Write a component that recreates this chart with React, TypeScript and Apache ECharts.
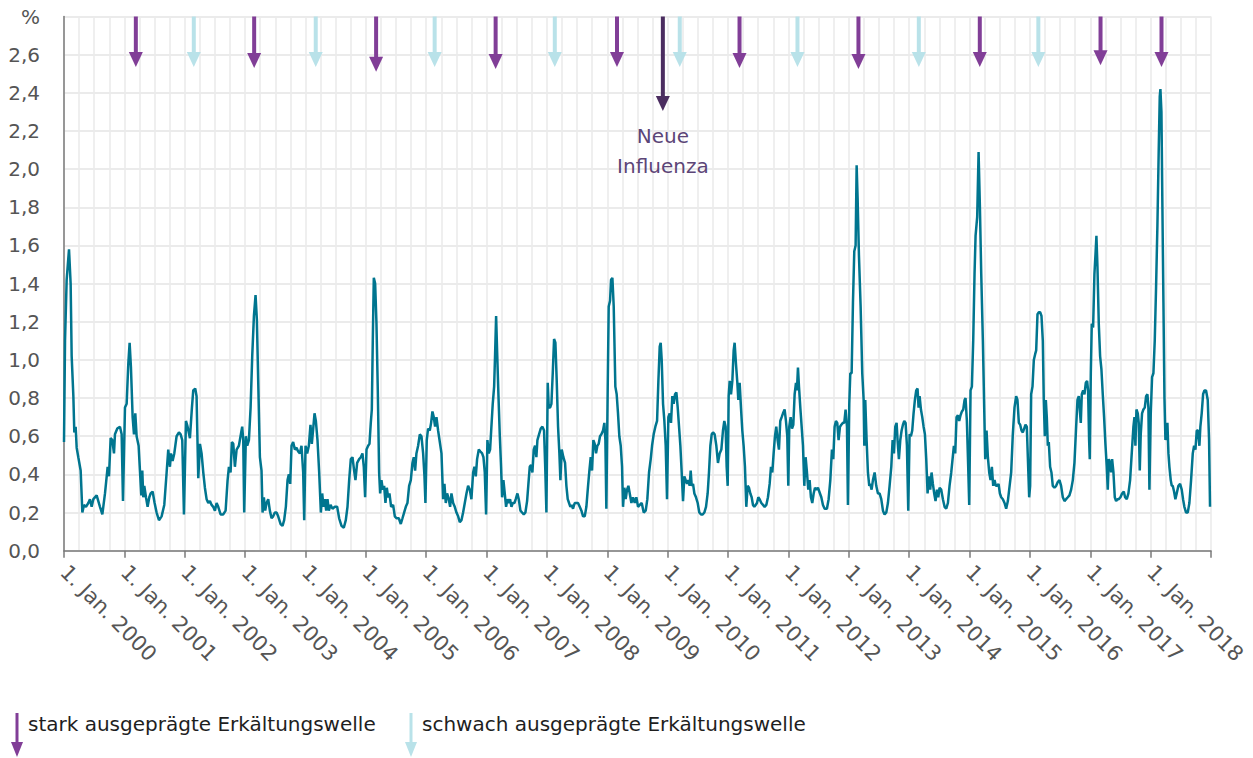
import React, { useEffect, useRef } from "react";
import * as echarts from "echarts";

// Weekly readings, [decimal year, value in %]
const y2000 = [[2000.000,0.57],[2000.017,1.10],[2000.044,1.42],[2000.083,1.58],[2000.110,1.40],[2000.127,1.02],[2000.155,0.81],[2000.171,0.62],[2000.193,0.65],[2000.210,0.54],[2000.237,0.49],[2000.276,0.42],[2000.304,0.20],[2000.331,0.24],[2000.364,0.23],[2000.403,0.25],[2000.430,0.27],[2000.458,0.23],[2000.486,0.27],[2000.541,0.29],[2000.596,0.23],[2000.635,0.19],[2000.679,0.30],[2000.723,0.44],[2000.745,0.39],[2000.773,0.59],[2000.800,0.58],[2000.828,0.51],[2000.844,0.61],[2000.883,0.64],[2000.927,0.65],[2000.955,0.61],[2000.977,0.26]];
const y2001 = [[2001.010,0.75],[2001.038,0.77],[2001.065,0.98],[2001.087,1.09],[2001.109,0.96],[2001.137,0.70],[2001.159,0.61],[2001.181,0.72],[2001.203,0.60],[2001.236,0.55],[2001.258,0.42],[2001.280,0.29],[2001.297,0.42],[2001.313,0.28],[2001.330,0.34],[2001.358,0.28],[2001.385,0.23],[2001.413,0.28],[2001.435,0.30],[2001.468,0.31],[2001.501,0.25],[2001.534,0.20],[2001.573,0.16],[2001.617,0.18],[2001.661,0.24],[2001.700,0.41],[2001.727,0.53],[2001.755,0.44],[2001.772,0.51],[2001.799,0.47],[2001.827,0.51],[2001.865,0.60],[2001.904,0.62],[2001.932,0.61],[2001.959,0.58],[2001.987,0.19]];
const y2002 = [[2002.020,0.68],[2002.047,0.65],[2002.086,0.59],[2002.119,0.75],[2002.141,0.84],[2002.174,0.85],[2002.196,0.81],[2002.224,0.38],[2002.252,0.56],[2002.279,0.51],[2002.307,0.41],[2002.334,0.33],[2002.362,0.27],[2002.390,0.25],[2002.417,0.26],[2002.445,0.24],[2002.472,0.23],[2002.500,0.21],[2002.528,0.25],[2002.555,0.23],[2002.594,0.19],[2002.638,0.19],[2002.677,0.21],[2002.710,0.37],[2002.732,0.44],[2002.759,0.41],[2002.781,0.57],[2002.804,0.56],[2002.831,0.44],[2002.859,0.53],[2002.897,0.55],[2002.930,0.61],[2002.952,0.65],[2002.969,0.58],[2002.985,0.20]];
const y2003 = [[2003.013,0.60],[2003.035,0.55],[2003.063,0.58],[2003.091,0.75],[2003.118,1.02],[2003.146,1.23],[2003.173,1.34],[2003.195,1.21],[2003.217,0.89],[2003.245,0.49],[2003.272,0.42],[2003.289,0.20],[2003.311,0.28],[2003.333,0.21],[2003.355,0.25],[2003.383,0.27],[2003.410,0.21],[2003.438,0.17],[2003.465,0.18],[2003.493,0.20],[2003.521,0.20],[2003.548,0.18],[2003.587,0.14],[2003.620,0.13],[2003.647,0.16],[2003.675,0.23],[2003.703,0.37],[2003.725,0.40],[2003.747,0.35],[2003.769,0.55],[2003.796,0.57],[2003.824,0.53],[2003.852,0.54],[2003.879,0.52],[2003.907,0.51],[2003.934,0.55],[2003.962,0.41],[2003.979,0.16]];
const y2004 = [[2004.001,0.55],[2004.028,0.51],[2004.056,0.55],[2004.083,0.66],[2004.105,0.56],[2004.128,0.64],[2004.150,0.72],[2004.172,0.68],[2004.199,0.58],[2004.227,0.41],[2004.255,0.20],[2004.277,0.30],[2004.299,0.23],[2004.321,0.27],[2004.343,0.21],[2004.365,0.27],[2004.387,0.21],[2004.415,0.24],[2004.448,0.22],[2004.486,0.23],[2004.525,0.23],[2004.558,0.17],[2004.597,0.13],[2004.635,0.12],[2004.668,0.16],[2004.696,0.23],[2004.724,0.37],[2004.751,0.48],[2004.779,0.49],[2004.806,0.42],[2004.828,0.37],[2004.856,0.46],[2004.889,0.48],[2004.917,0.49],[2004.944,0.51],[2004.966,0.44],[2004.988,0.28]];
const y2005 = [[2005.011,0.53],[2005.038,0.55],[2005.060,0.56],[2005.082,0.67],[2005.099,0.74],[2005.115,1.10],[2005.132,1.43],[2005.154,1.40],[2005.176,1.19],[2005.198,0.84],[2005.220,0.41],[2005.237,0.30],[2005.259,0.37],[2005.281,0.32],[2005.303,0.34],[2005.325,0.25],[2005.347,0.33],[2005.369,0.28],[2005.391,0.30],[2005.419,0.23],[2005.452,0.24],[2005.480,0.18],[2005.507,0.17],[2005.546,0.17],[2005.579,0.14],[2005.607,0.17],[2005.634,0.20],[2005.662,0.23],[2005.689,0.25],[2005.717,0.34],[2005.745,0.37],[2005.772,0.46],[2005.794,0.49],[2005.816,0.42],[2005.838,0.51],[2005.866,0.55],[2005.894,0.61],[2005.921,0.60],[2005.949,0.51],[2005.971,0.39],[2005.987,0.25]];
const y2006 = [[2006.009,0.58],[2006.031,0.64],[2006.059,0.63],[2006.081,0.67],[2006.103,0.73],[2006.125,0.70],[2006.147,0.65],[2006.170,0.70],[2006.197,0.63],[2006.253,0.51],[2006.280,0.27],[2006.302,0.35],[2006.324,0.25],[2006.346,0.30],[2006.374,0.27],[2006.396,0.23],[2006.418,0.30],[2006.446,0.25],[2006.473,0.23],[2006.501,0.20],[2006.529,0.18],[2006.556,0.15],[2006.584,0.16],[2006.611,0.20],[2006.639,0.25],[2006.667,0.30],[2006.694,0.34],[2006.722,0.32],[2006.749,0.27],[2006.777,0.41],[2006.799,0.44],[2006.821,0.39],[2006.843,0.48],[2006.871,0.53],[2006.898,0.52],[2006.926,0.51],[2006.948,0.49],[2006.970,0.41],[2006.992,0.19]];
const y2007 = [[2007.014,0.58],[2007.036,0.51],[2007.058,0.53],[2007.080,0.65],[2007.102,0.77],[2007.125,0.86],[2007.141,1.03],[2007.158,1.23],[2007.174,1.05],[2007.196,0.82],[2007.218,0.61],[2007.240,0.44],[2007.257,0.28],[2007.279,0.37],[2007.301,0.30],[2007.323,0.23],[2007.345,0.27],[2007.367,0.25],[2007.389,0.27],[2007.412,0.23],[2007.434,0.25],[2007.461,0.25],[2007.483,0.27],[2007.511,0.30],[2007.533,0.27],[2007.561,0.21],[2007.588,0.20],[2007.616,0.19],[2007.643,0.20],[2007.671,0.26],[2007.693,0.35],[2007.715,0.44],[2007.737,0.45],[2007.759,0.41],[2007.781,0.53],[2007.803,0.55],[2007.825,0.49],[2007.842,0.58],[2007.869,0.61],[2007.897,0.64],[2007.925,0.65],[2007.952,0.63],[2007.974,0.41],[2007.991,0.20]];
const y2008 = [[2008.013,0.88],[2008.030,0.75],[2008.052,0.75],[2008.074,0.77],[2008.096,0.93],[2008.118,1.11],[2008.140,1.09],[2008.162,0.89],[2008.184,0.65],[2008.206,0.51],[2008.223,0.37],[2008.245,0.53],[2008.272,0.49],[2008.300,0.46],[2008.322,0.34],[2008.344,0.27],[2008.366,0.25],[2008.388,0.23],[2008.410,0.24],[2008.432,0.22],[2008.460,0.25],[2008.488,0.25],[2008.515,0.25],[2008.543,0.23],[2008.571,0.21],[2008.598,0.18],[2008.626,0.18],[2008.653,0.23],[2008.681,0.34],[2008.703,0.42],[2008.725,0.49],[2008.747,0.42],[2008.769,0.58],[2008.791,0.56],[2008.813,0.51],[2008.835,0.55],[2008.857,0.56],[2008.879,0.60],[2008.902,0.61],[2008.929,0.63],[2008.951,0.67],[2008.968,0.58],[2008.984,0.22]];
const y2009 = [[2009.006,0.84],[2009.023,1.28],[2009.045,1.31],[2009.062,1.42],[2009.084,1.43],[2009.106,1.28],[2009.133,0.86],[2009.155,0.82],[2009.177,0.72],[2009.199,0.60],[2009.222,0.55],[2009.244,0.44],[2009.260,0.23],[2009.282,0.33],[2009.304,0.27],[2009.327,0.32],[2009.349,0.34],[2009.399,0.25],[2009.426,0.28],[2009.454,0.25],[2009.481,0.28],[2009.509,0.23],[2009.537,0.24],[2009.570,0.25],[2009.603,0.20],[2009.636,0.21],[2009.663,0.27],[2009.691,0.41],[2009.719,0.48],[2009.741,0.55],[2009.768,0.61],[2009.796,0.65],[2009.824,0.68],[2009.846,0.89],[2009.868,1.07],[2009.884,1.09],[2009.901,1.00],[2009.923,0.77],[2009.945,0.68],[2009.967,0.55],[2009.989,0.27]];
const y2010 = [[2010.011,0.70],[2010.033,0.72],[2010.055,0.67],[2010.077,0.81],[2010.099,0.77],[2010.122,0.82],[2010.144,0.83],[2010.166,0.75],[2010.188,0.65],[2010.210,0.55],[2010.232,0.41],[2010.254,0.26],[2010.276,0.39],[2010.298,0.37],[2010.320,0.35],[2010.342,0.37],[2010.364,0.34],[2010.381,0.42],[2010.398,0.34],[2010.420,0.35],[2010.442,0.30],[2010.469,0.28],[2010.497,0.25],[2010.524,0.20],[2010.552,0.19],[2010.580,0.19],[2010.607,0.20],[2010.635,0.23],[2010.662,0.30],[2010.684,0.41],[2010.707,0.55],[2010.729,0.61],[2010.751,0.62],[2010.778,0.61],[2010.806,0.55],[2010.833,0.46],[2010.861,0.51],[2010.889,0.53],[2010.916,0.63],[2010.938,0.68],[2010.960,0.65],[2010.977,0.44],[2010.994,0.34]];
const y2011 = [[2011.010,0.81],[2011.027,0.89],[2011.049,0.82],[2011.071,0.89],[2011.093,1.05],[2011.109,1.09],[2011.131,0.98],[2011.154,0.88],[2011.170,0.79],[2011.192,0.88],[2011.214,0.75],[2011.236,0.63],[2011.258,0.55],[2011.280,0.44],[2011.302,0.23],[2011.325,0.34],[2011.347,0.33],[2011.369,0.30],[2011.391,0.28],[2011.413,0.24],[2011.435,0.23],[2011.457,0.24],[2011.479,0.25],[2011.501,0.28],[2011.523,0.27],[2011.551,0.25],[2011.579,0.24],[2011.606,0.23],[2011.634,0.24],[2011.661,0.28],[2011.689,0.35],[2011.711,0.44],[2011.733,0.41],[2011.755,0.51],[2011.777,0.60],[2011.799,0.65],[2011.821,0.58],[2011.843,0.53],[2011.865,0.68],[2011.888,0.70],[2011.910,0.72],[2011.937,0.74],[2011.959,0.68],[2011.981,0.60],[2011.998,0.34]];
const y2012 = [[2012.014,0.65],[2012.037,0.70],[2012.059,0.64],[2012.081,0.66],[2012.103,0.82],[2012.125,0.88],[2012.141,0.84],[2012.158,0.96],[2012.175,0.86],[2012.197,0.75],[2012.219,0.65],[2012.241,0.55],[2012.263,0.34],[2012.285,0.49],[2012.307,0.41],[2012.329,0.32],[2012.351,0.37],[2012.373,0.28],[2012.395,0.25],[2012.418,0.30],[2012.440,0.33],[2012.462,0.32],[2012.489,0.33],[2012.545,0.28],[2012.572,0.24],[2012.600,0.22],[2012.638,0.22],[2012.666,0.27],[2012.694,0.37],[2012.721,0.53],[2012.743,0.48],[2012.765,0.65],[2012.787,0.68],[2012.809,0.67],[2012.831,0.58],[2012.854,0.65],[2012.876,0.66],[2012.903,0.67],[2012.925,0.67],[2012.947,0.74],[2012.970,0.65],[2012.986,0.24]];
const y2013 = [[2013.008,0.77],[2013.025,0.93],[2013.047,0.93],[2013.069,1.30],[2013.091,1.57],[2013.113,1.60],[2013.130,2.02],[2013.146,1.85],[2013.168,1.55],[2013.196,1.28],[2013.223,0.93],[2013.246,0.79],[2013.257,0.55],[2013.273,0.79],[2013.295,0.58],[2013.317,0.41],[2013.339,0.34],[2013.356,0.35],[2013.378,0.32],[2013.400,0.37],[2013.428,0.41],[2013.455,0.34],[2013.483,0.30],[2013.510,0.30],[2013.538,0.27],[2013.566,0.21],[2013.593,0.19],[2013.621,0.20],[2013.648,0.25],[2013.676,0.34],[2013.704,0.44],[2013.726,0.58],[2013.748,0.51],[2013.770,0.65],[2013.792,0.67],[2013.808,0.58],[2013.830,0.48],[2013.853,0.58],[2013.875,0.63],[2013.897,0.66],[2013.919,0.68],[2013.941,0.67],[2013.963,0.55],[2013.985,0.21]];
const y2014 = [[2014.007,0.61],[2014.029,0.60],[2014.051,0.63],[2014.073,0.72],[2014.095,0.79],[2014.117,0.84],[2014.139,0.85],[2014.156,0.75],[2014.173,0.81],[2014.195,0.74],[2014.217,0.70],[2014.239,0.65],[2014.261,0.61],[2014.283,0.48],[2014.305,0.30],[2014.327,0.39],[2014.349,0.32],[2014.371,0.41],[2014.393,0.35],[2014.415,0.30],[2014.437,0.26],[2014.460,0.32],[2014.482,0.28],[2014.504,0.33],[2014.531,0.32],[2014.559,0.27],[2014.587,0.23],[2014.614,0.22],[2014.642,0.25],[2014.669,0.34],[2014.697,0.41],[2014.719,0.48],[2014.741,0.55],[2014.763,0.51],[2014.785,0.70],[2014.807,0.71],[2014.829,0.68],[2014.851,0.71],[2014.874,0.73],[2014.896,0.74],[2014.918,0.79],[2014.934,0.80],[2014.956,0.68],[2014.978,0.44],[2014.995,0.24]];
const y2015 = [[2015.017,0.84],[2015.039,0.86],[2015.061,1.10],[2015.083,1.45],[2015.100,1.65],[2015.127,1.75],[2015.150,2.09],[2015.172,1.80],[2015.194,1.45],[2015.221,1.10],[2015.243,0.75],[2015.260,0.48],[2015.282,0.63],[2015.304,0.49],[2015.326,0.41],[2015.348,0.37],[2015.370,0.44],[2015.392,0.34],[2015.414,0.37],[2015.436,0.34],[2015.458,0.34],[2015.481,0.35],[2015.503,0.30],[2015.525,0.28],[2015.552,0.27],[2015.580,0.25],[2015.607,0.22],[2015.635,0.26],[2015.690,0.41],[2015.717,0.61],[2015.745,0.75],[2015.772,0.81],[2015.794,0.79],[2015.817,0.67],[2015.839,0.66],[2015.861,0.63],[2015.883,0.62],[2015.905,0.64],[2015.927,0.66],[2015.949,0.65],[2015.966,0.49],[2015.988,0.28]];
const y2016 = [[2016.004,0.34],[2016.021,0.82],[2016.043,0.86],[2016.065,1.00],[2016.087,1.03],[2016.104,1.05],[2016.126,1.24],[2016.148,1.25],[2016.170,1.25],[2016.192,1.23],[2016.214,1.10],[2016.230,0.79],[2016.247,0.60],[2016.264,0.79],[2016.280,0.70],[2016.297,0.55],[2016.313,0.57],[2016.335,0.44],[2016.357,0.41],[2016.379,0.34],[2016.407,0.33],[2016.435,0.34],[2016.462,0.36],[2016.490,0.37],[2016.517,0.34],[2016.545,0.28],[2016.573,0.26],[2016.600,0.27],[2016.628,0.28],[2016.655,0.29],[2016.683,0.32],[2016.711,0.37],[2016.738,0.46],[2016.766,0.65],[2016.788,0.79],[2016.810,0.81],[2016.826,0.74],[2016.843,0.67],[2016.860,0.82],[2016.882,0.84],[2016.904,0.82],[2016.926,0.88],[2016.948,0.89],[2016.964,0.84],[2016.981,0.58],[2016.992,0.48]];
const y2017 = [[2017.009,0.93],[2017.025,1.19],[2017.047,1.17],[2017.069,1.45],[2017.086,1.55],[2017.102,1.65],[2017.119,1.49],[2017.141,1.19],[2017.163,1.02],[2017.185,0.95],[2017.207,0.82],[2017.229,0.70],[2017.251,0.56],[2017.273,0.44],[2017.290,0.32],[2017.307,0.48],[2017.329,0.46],[2017.345,0.41],[2017.362,0.48],[2017.384,0.41],[2017.406,0.28],[2017.428,0.26],[2017.450,0.27],[2017.472,0.27],[2017.500,0.28],[2017.527,0.30],[2017.555,0.31],[2017.577,0.28],[2017.605,0.27],[2017.632,0.30],[2017.660,0.37],[2017.687,0.51],[2017.715,0.65],[2017.732,0.70],[2017.748,0.55],[2017.765,0.74],[2017.787,0.72],[2017.803,0.67],[2017.820,0.42],[2017.836,0.61],[2017.858,0.72],[2017.880,0.74],[2017.903,0.75],[2017.925,0.81],[2017.947,0.82],[2017.963,0.75],[2017.980,0.32]];
const y2018 = [[2018.002,0.72],[2018.024,0.91],[2018.046,0.93],[2018.068,1.10],[2018.090,1.38],[2018.112,1.70],[2018.134,2.10],[2018.151,2.38],[2018.162,2.42],[2018.179,2.30],[2018.195,1.80],[2018.212,1.30],[2018.229,0.80],[2018.245,0.58],[2018.262,0.60],[2018.278,0.67],[2018.295,0.51],[2018.311,0.44],[2018.333,0.37],[2018.350,0.34],[2018.366,0.34],[2018.388,0.31],[2018.410,0.27],[2018.432,0.30],[2018.460,0.34],[2018.488,0.35],[2018.515,0.32],[2018.537,0.27],[2018.559,0.23],[2018.587,0.20],[2018.615,0.20],[2018.642,0.25],[2018.670,0.37],[2018.698,0.51],[2018.720,0.55],[2018.742,0.53],[2018.764,0.63],[2018.786,0.63],[2018.808,0.55],[2018.824,0.65],[2018.846,0.72],[2018.869,0.82],[2018.891,0.84],[2018.918,0.84],[2018.946,0.79],[2018.968,0.58],[2018.984,0.23]];

// Cold-wave markers (decimal year of the arrow) and arrow tip value
const strongWaves = [2001.19, 2003.15, 2005.17, 2007.15, 2009.16, 2011.19, 2013.16, 2015.17, 2017.17, 2018.18];
const strongTips = [2.535, 2.53, 2.51, 2.525, 2.535, 2.53, 2.525, 2.535, 2.545, 2.535];
const weakWaves = [2002.15, 2004.17, 2006.14, 2008.13, 2010.2, 2012.15, 2014.16, 2016.14];
const weakTip = 2.535;
const newFlu = 2009.92;
const newFluTip = 2.305;
const arrowTop = 2.8;

const yearTicks = { min: 2000, max: 2019, step: 1 };
const yTicks = { min: 0, max: 2.8, step: 0.2 };

const legendItems = [
  { label: "stark ausgeprägte Erkältungswelle", kind: 0 },
  { label: "schwach ausgeprägte Erkältungswelle", kind: 1 },
];

const FONT = "'DejaVu Sans', sans-serif";
const TEAL = "#00758f";
const PURPLE = "#813e97";
const LIGHT = "#b9e2e9";
const DARK = "#4b2d60";
const ARROW_COLORS = [PURPLE, LIGHT, DARK];

export default function App() {
  const ref = useRef<HTMLDivElement>(null);
  useEffect(() => {
    if (!ref.current) return;
    const chart = echarts.init(ref.current, null, { renderer: "svg" });
    const series = [
      ...y2000, ...y2001, ...y2002, ...y2003, ...y2004, ...y2005, ...y2006,
      ...y2007, ...y2008, ...y2009, ...y2010, ...y2011, ...y2012, ...y2013,
      ...y2014, ...y2015, ...y2016, ...y2017, ...y2018,
    ];
    const arrows = [
      ...strongWaves.map((t, i) => [t, arrowTop, strongTips[i], 0]),
      ...weakWaves.map((t) => [t, arrowTop, weakTip, 1]),
      [newFlu, arrowTop, newFluTip, 2],
    ];

    const legendGraphics: any[] = [];
    const legendX = [17, 411];
    legendItems.forEach((it, i) => {
      const x = legendX[i];
      const c = ARROW_COLORS[it.kind];
      legendGraphics.push(
        { type: "line", shape: { x1: x, y1: 713, x2: x, y2: 744 }, style: { stroke: c, lineWidth: 3 } },
        { type: "polygon", shape: { points: [[x - 6, 742], [x + 6, 742], [x, 757]] }, style: { fill: c } },
        { type: "text", x: x + 11, y: 724, style: { text: it.label, fill: "#1e1e1e", font: `20px ${FONT}`, verticalAlign: "middle" } }
      );
    });

    chart.setOption({
      animation: false,
      textStyle: { fontFamily: FONT },
      grid: { left: 64, right: 42, top: 16.5, bottom: 207.3, containLabel: false },
      xAxis: {
        type: "value",
        min: yearTicks.min,
        max: yearTicks.max,
        interval: yearTicks.step,
        axisLine: { show: true, onZero: false, lineStyle: { color: "#7a7a7a", width: 1.5 } },
        axisTick: { show: true, length: 7, lineStyle: { color: "#7a7a7a", width: 1.5 } },
        axisLabel: {
          rotate: -45,
          margin: 18,
          color: "#555",
          fontSize: 21,
          fontFamily: FONT,
          formatter: (v: number) => (v >= yearTicks.max ? "" : `1. Jan. ${v}`),
        },
        splitLine: { show: true, lineStyle: { color: "#ebebeb", width: 1.6 } },
        minorTick: { show: false, splitNumber: 4 },
        minorSplitLine: { show: true, lineStyle: { color: "#ebebeb", width: 1.6 } },
      },
      yAxis: {
        type: "value",
        min: yTicks.min,
        max: yTicks.max,
        interval: yTicks.step,
        axisLine: { show: true, lineStyle: { color: "#7a7a7a", width: 1.5 } },
        axisTick: { show: false },
        axisLabel: {
          margin: 24,
          color: "#555",
          fontSize: 20,
          fontFamily: FONT,
          formatter: (v: number) => (v >= yTicks.max - 1e-6 ? "%" : v.toFixed(1).replace(".", ",")),
        },
        splitLine: { show: true, lineStyle: { color: "#ebebeb", width: 1.8 } },
      },
      graphic: legendGraphics,
      series: [
        {
          type: "line",
          data: series,
          showSymbol: false,
          symbol: "none",
          lineStyle: { color: TEAL, width: 2.5 },
          z: 3,
        },
        {
          type: "custom",
          data: arrows,
          clip: false,
          z: 4,
          renderItem: (params: any, api: any) => {
            const t = api.value(0);
            const top = api.value(1);
            const tip = api.value(2);
            const kind = api.value(3);
            const p1 = api.coord([t, top]);
            const p2 = api.coord([t, tip]);
            const c = ARROW_COLORS[kind];
            const head = 15;
            const hw = 7;
            const children: any[] = [
              { type: "line", shape: { x1: p1[0], y1: p1[1], x2: p2[0], y2: p2[1] - head + 1 }, style: { stroke: c, lineWidth: 4 } },
              { type: "polygon", shape: { points: [[p2[0] - hw, p2[1] - head], [p2[0] + hw, p2[1] - head], [p2[0], p2[1]]] }, style: { fill: c } },
            ];
            if (kind === 2) {
              children.push({
                type: "text",
                x: p2[0],
                y: p2[1] + 10,
                style: { text: "Neue\nInfluenza", fill: "#5c4577", font: `20px ${FONT}`, align: "center", verticalAlign: "top", lineHeight: 30 },
              });
            }
            return { type: "group", children };
          },
        },
      ],
    });
    return () => chart.dispose();
  }, []);
  return <div ref={ref} style={{ position: "absolute", left: 0, top: 0, width: 1253, height: 758 }} />;
}
